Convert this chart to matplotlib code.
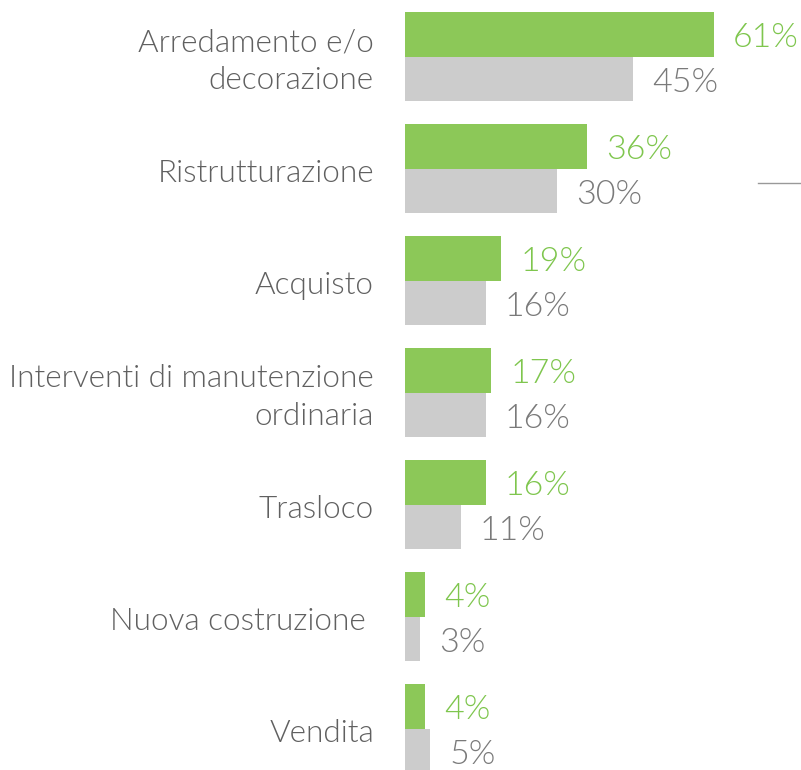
import matplotlib
matplotlib.use("Agg")
import matplotlib.pyplot as plt
from matplotlib.lines import Line2D
import numpy as np

# dati
categorie = ["Arredamento e/o\ndecorazione", "Ristrutturazione", "Acquisto",
             "Interventi di manutenzione\nordinaria", "Trasloco",
             "Nuova costruzione ", "Vendita"]
valori_verde = [61, 36, 19, 17, 16, 4, 4]
valori_grigio = [45, 30, 16, 16, 11, 3, 5]

VERDE = "#8cc858"
VERDE_TESTO = "#7fc64e"
GRIGIO = "#cccccc"
GRIGIO_TESTO = "#7a7a7a"
TESTO = "#606060"

plt.rcParams['font.family'] = ['Lato', 'DejaVu Sans']
PESO = 300

fig = plt.figure(figsize=(8.01, 7.70), dpi=100)
ax = fig.add_axes([405 / 801, 0, 1 - 405 / 801, 1])

y = np.arange(len(categorie))
h = 0.397
ax.barh(y - 0.199, valori_verde, height=h, color=VERDE, linewidth=0)
ax.barh(y + 0.199, valori_grigio, height=h, color=GRIGIO, linewidth=0)

for i in range(len(categorie)):
    ax.annotate(f"{valori_verde[i]}%", (valori_verde[i], y[i] - 0.165),
                xytext=(19, 0), textcoords="offset pixels",
                ha="left", va="center", fontsize=24.5, color=VERDE_TESTO,
                fontweight=PESO, annotation_clip=False)
    ax.annotate(f"{valori_grigio[i]}%", (valori_grigio[i], y[i] + 0.23),
                xytext=(19, 0), textcoords="offset pixels",
                ha="left", va="center", fontsize=24.5, color=GRIGIO_TESTO,
                fontweight=PESO, annotation_clip=False)
    ax.annotate(categorie[i], (0, y[i] + 0.045), xytext=(-31, 0),
                textcoords="offset pixels", ha="right", va="center",
                fontsize=22.7, color=TESTO, fontweight=PESO,
                linespacing=1.4, annotation_clip=False)

ax.set_xlim(0, 396 / 5.066)
ax.set_ylim((770 - 56.75) / 112, -56.75 / 112)
ax.axis("off")

# piccola linea decorativa a destra
fig.add_artist(Line2D([758 / 801, 1.0], [1 - 183 / 770, 1 - 183 / 770],
                      color="#999999", linewidth=1))

fig.savefig("out.png", dpi=100)
